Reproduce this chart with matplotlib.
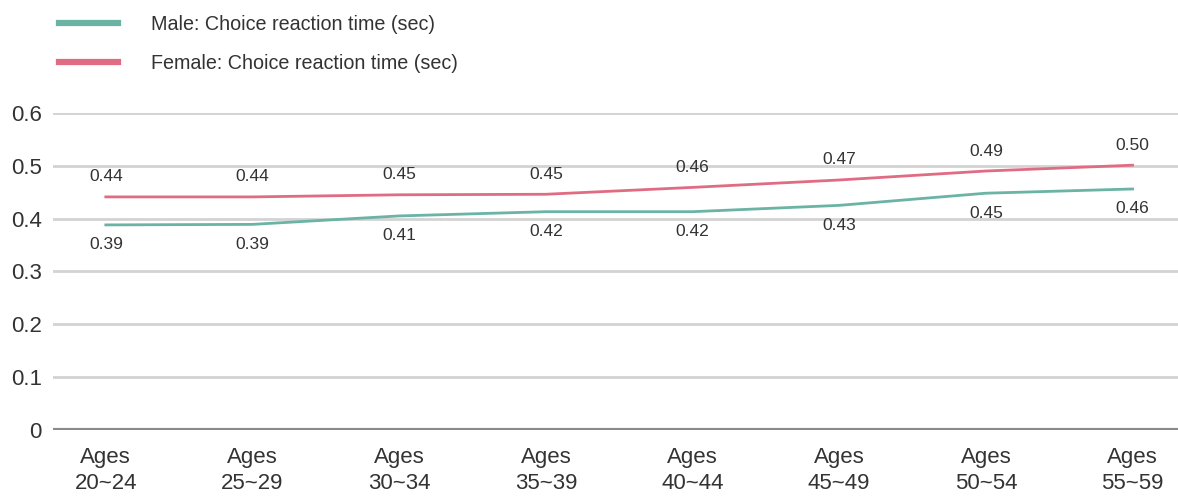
import matplotlib
matplotlib.use("Agg")
import matplotlib.pyplot as plt

plt.rcParams["font.family"] = ["Liberation Sans", "DejaVu Sans"]

# datos
grupos = ["Ages\n20~24", "Ages\n25~29", "Ages\n30~34", "Ages\n35~39",
          "Ages\n40~44", "Ages\n45~49", "Ages\n50~54", "Ages\n55~59"]
hombres = [0.388, 0.389, 0.405, 0.413, 0.413, 0.425, 0.448, 0.456]
mujeres = [0.441, 0.441, 0.445, 0.446, 0.459, 0.473, 0.490, 0.501]
etiquetas_h = ["0.39", "0.39", "0.41", "0.42", "0.42", "0.43", "0.45", "0.46"]
etiquetas_m = ["0.44", "0.44", "0.45", "0.45", "0.46", "0.47", "0.49", "0.50"]
y_ticks = [0, 0.1, 0.2, 0.3, 0.4, 0.5, 0.6]
y_labels = ["0", "0.1", "0.2", "0.3", "0.4", "0.5", "0.6"]

color_h = "#6bb3a5"
color_m = "#e06c84"
texto = "#333333"

fig = plt.figure(figsize=(11.78, 5.04), dpi=100)
ax = fig.add_axes([0.045, 0.147, 0.955, 0.629])

x = list(range(len(grupos)))
l1, = ax.plot(x, hombres, color=color_h, lw=2, label="Male: Choice reaction time (sec)")
l2, = ax.plot(x, mujeres, color=color_m, lw=2, label="Female: Choice reaction time (sec)")

for i in x:
    ax.annotate(etiquetas_m[i], (i, mujeres[i]), xytext=(0, 9), textcoords="offset points",
                ha="center", va="bottom", fontsize=12.5, color=texto)
    ax.annotate(etiquetas_h[i], (i, hombres[i]), xytext=(0, -9), textcoords="offset points",
                ha="center", va="top", fontsize=12.5, color=texto)

for t in y_ticks[1:]:
    ax.axhline(t, color="#d3d3d3", lw=2, zorder=0)
ax.axhline(0, color="#8a8a8a", lw=3, zorder=1)

ax.set_xlim(-0.36, 7.31)
ax.set_ylim(0, 0.6)
ax.set_yticks(y_ticks)
ax.set_yticklabels(y_labels, fontsize=16, color=texto)
ax.set_xticks(x)
ax.set_xticklabels(grupos, fontsize=16, color=texto, linespacing=1.35)
ax.tick_params(length=0, pad=8)
ax.tick_params(axis="x", pad=12)
for s in ax.spines.values():
    s.set_visible(False)

fig.legend(handles=[l1, l2], loc="upper left", bbox_to_anchor=(0.035, 1.005),
           frameon=False, fontsize=14.2, handlelength=3.0, labelspacing=1.0,
           handletextpad=1.65, labelcolor=texto)
for h in fig.legends[0].get_lines():
    h.set_linewidth(4.5)

fig.savefig("out.png", dpi=100)
